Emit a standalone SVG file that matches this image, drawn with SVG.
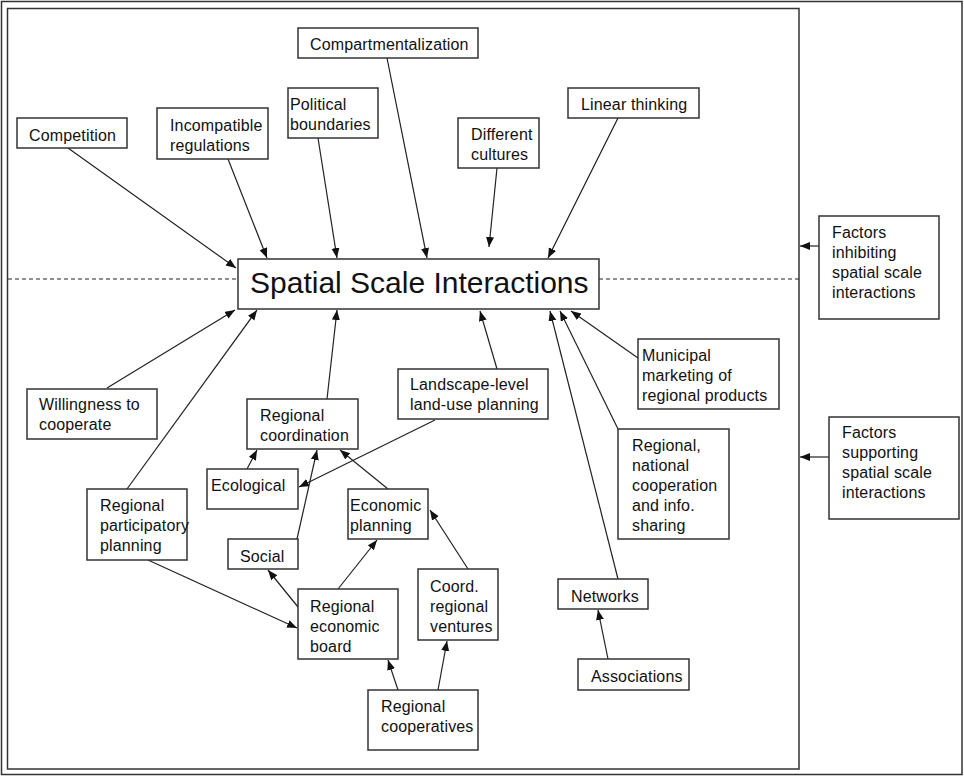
<svg xmlns="http://www.w3.org/2000/svg" width="964" height="776" viewBox="0 0 964 776">
  <style>
    .box { fill: #ffffff; stroke: #333333; stroke-width: 1.5; }
    .frame { fill: none; stroke: #333333; stroke-width: 1.5; }
    .lbl { font-family: "Liberation Sans", Arial, sans-serif; font-size: 16px; letter-spacing: 0.15px; fill: #111111; }
    .big { font-family: "Liberation Sans", Arial, sans-serif; font-size: 30px; fill: #111111; }
    .conn line { stroke: #222222; stroke-width: 1.2; marker-end: url(#arrow); }
    .dash { stroke: #222222; stroke-width: 1.1; stroke-dasharray: 4 3; fill: none; }
  </style>
  <defs>
    <marker id="arrow" markerUnits="userSpaceOnUse" markerWidth="11" markerHeight="9" refX="10" refY="4" orient="auto">
      <path d="M0,0 L10,4 L0,8 z" fill="#111111"/>
    </marker>
  </defs>

  <rect width="964" height="776" fill="#ffffff"/>

  <!-- outer and inner frames -->
  <rect class="frame" x="1.5" y="1.5" width="960.5" height="773"/>
  <rect class="frame" x="7.5" y="8.5" width="791.5" height="760.5"/>

  <!-- dashed divider between inhibiting (above) and supporting (below) factors -->
  <line class="dash" x1="8" y1="279" x2="238" y2="279"/>
  <line class="dash" x1="599" y1="279" x2="799" y2="279"/>

  <!-- connectors -->
  <g id="connectors" class="conn">
    <line x1="68" y1="148" x2="236" y2="268"/>
    <line x1="228" y1="159" x2="267" y2="258"/>
    <line x1="318" y1="138" x2="337" y2="258"/>
    <line x1="387" y1="58" x2="427" y2="258"/>
    <line x1="497" y1="168" x2="489" y2="247"/>
    <line x1="618" y1="118" x2="548" y2="258"/>
    <line x1="819" y1="246" x2="800" y2="246"/>
    <line x1="829" y1="457" x2="800" y2="457"/>
    <line x1="107" y1="388" x2="235" y2="310"/>
    <line x1="127" y1="489" x2="257" y2="310"/>
    <line x1="327" y1="399" x2="337" y2="310"/>
    <line x1="497" y1="369" x2="480" y2="311"/>
    <line x1="638" y1="358" x2="571" y2="311"/>
    <line x1="618" y1="429" x2="560" y2="311"/>
    <line x1="618" y1="579" x2="550" y2="311"/>
    <line x1="435" y1="420" x2="299" y2="487"/>
    <line x1="247" y1="469" x2="257" y2="450"/>
    <line x1="297" y1="539" x2="317" y2="450"/>
    <line x1="388" y1="489" x2="340" y2="450"/>
    <line x1="148" y1="560" x2="297" y2="628"/>
    <line x1="298" y1="607" x2="268" y2="570"/>
    <line x1="338" y1="589" x2="377" y2="540"/>
    <line x1="468" y1="569" x2="430" y2="510"/>
    <line x1="398" y1="690" x2="388" y2="660"/>
    <line x1="438" y1="690" x2="447" y2="641"/>
    <line x1="608" y1="659" x2="598" y2="610"/>
  </g>

  <!-- central node -->
  <g id="spatial-scale-interactions">
    <rect class="box" x="238" y="259" width="361" height="50"/>
    <text class="big" x="250" y="293">Spatial Scale Interactions</text>
  </g>

  <!-- inhibiting factors -->
  <g id="competition">
    <rect class="box" x="17" y="118" width="110" height="30"/>
    <text class="lbl" x="29" y="141">Competition</text>
  </g>
  <g id="incompatible-regulations">
    <rect class="box" x="157" y="108" width="111" height="51"/>
    <text class="lbl" x="170" y="131">Incompatible</text>
    <text class="lbl" x="170" y="151">regulations</text>
  </g>
  <g id="political-boundaries">
    <rect class="box" x="288" y="88" width="90" height="50"/>
    <text class="lbl" x="290" y="110">Political</text>
    <text class="lbl" x="290" y="130">boundaries</text>
  </g>
  <g id="compartmentalization">
    <rect class="box" x="298" y="28" width="180" height="30"/>
    <text class="lbl" x="310" y="50">Compartmentalization</text>
  </g>
  <g id="different-cultures">
    <rect class="box" x="458" y="118" width="81" height="50"/>
    <text class="lbl" x="471" y="140">Different</text>
    <text class="lbl" x="471" y="160">cultures</text>
  </g>
  <g id="linear-thinking">
    <rect class="box" x="568" y="88" width="131" height="30"/>
    <text class="lbl" x="581" y="110">Linear thinking</text>
  </g>

  <!-- legend nodes -->
  <g id="factors-inhibiting">
    <rect class="box" x="819" y="216" width="120" height="103"/>
    <text class="lbl" x="832" y="238">Factors</text>
    <text class="lbl" x="832" y="258">inhibiting</text>
    <text class="lbl" x="832" y="278">spatial scale</text>
    <text class="lbl" x="832" y="298">interactions</text>
  </g>
  <g id="factors-supporting">
    <rect class="box" x="829" y="417" width="130" height="102"/>
    <text class="lbl" x="842" y="438">Factors</text>
    <text class="lbl" x="842" y="458">supporting</text>
    <text class="lbl" x="842" y="478">spatial scale</text>
    <text class="lbl" x="842" y="498">interactions</text>
  </g>

  <!-- supporting factors -->
  <g id="willingness-to-cooperate">
    <rect class="box" x="27" y="389" width="130" height="50"/>
    <text class="lbl" x="39" y="410">Willingness to</text>
    <text class="lbl" x="39" y="430">cooperate</text>
  </g>
  <g id="regional-coordination">
    <rect class="box" x="247" y="399" width="111" height="50"/>
    <text class="lbl" x="260" y="421">Regional</text>
    <text class="lbl" x="260" y="441">coordination</text>
  </g>
  <g id="landscape-level-planning">
    <rect class="box" x="398" y="369" width="150" height="50"/>
    <text class="lbl" x="410" y="390">Landscape-level</text>
    <text class="lbl" x="410" y="410">land-use planning</text>
  </g>
  <g id="municipal-marketing">
    <rect class="box" x="638" y="339" width="141" height="70"/>
    <text class="lbl" x="642" y="361">Municipal</text>
    <text class="lbl" x="642" y="381">marketing of</text>
    <text class="lbl" x="642" y="401">regional products</text>
  </g>
  <g id="regional-national-cooperation">
    <rect class="box" x="618" y="429" width="111" height="110"/>
    <text class="lbl" x="632" y="451">Regional,</text>
    <text class="lbl" x="632" y="471">national</text>
    <text class="lbl" x="632" y="491">cooperation</text>
    <text class="lbl" x="632" y="511">and info.</text>
    <text class="lbl" x="632" y="531">sharing</text>
  </g>
  <g id="ecological">
    <rect class="box" x="207" y="469" width="91" height="40"/>
    <text class="lbl" x="211" y="491">Ecological</text>
  </g>
  <g id="economic-planning">
    <rect class="box" x="348" y="489" width="80" height="50"/>
    <text class="lbl" x="350" y="511">Economic</text>
    <text class="lbl" x="350" y="531">planning</text>
  </g>
  <g id="regional-participatory-planning">
    <rect class="box" x="87" y="489" width="100" height="71"/>
    <text class="lbl" x="100" y="511">Regional</text>
    <text class="lbl" x="100" y="531">participatory</text>
    <text class="lbl" x="100" y="551">planning</text>
  </g>
  <g id="social">
    <rect class="box" x="228" y="539" width="70" height="30"/>
    <text class="lbl" x="240" y="562">Social</text>
  </g>
  <g id="regional-economic-board">
    <rect class="box" x="298" y="589" width="100" height="70"/>
    <text class="lbl" x="310" y="612">Regional</text>
    <text class="lbl" x="310" y="632">economic</text>
    <text class="lbl" x="310" y="652">board</text>
  </g>
  <g id="coord-regional-ventures">
    <rect class="box" x="418" y="569" width="80" height="71"/>
    <text class="lbl" x="430" y="592">Coord.</text>
    <text class="lbl" x="430" y="612">regional</text>
    <text class="lbl" x="430" y="632">ventures</text>
  </g>
  <g id="regional-cooperatives">
    <rect class="box" x="368" y="690" width="110" height="60"/>
    <text class="lbl" x="381" y="712">Regional</text>
    <text class="lbl" x="381" y="732">cooperatives</text>
  </g>
  <g id="networks">
    <rect class="box" x="558" y="579" width="90" height="30"/>
    <text class="lbl" x="571" y="602">Networks</text>
  </g>
  <g id="associations">
    <rect class="box" x="578" y="659" width="111" height="31"/>
    <text class="lbl" x="591" y="682">Associations</text>
  </g>
</svg>
